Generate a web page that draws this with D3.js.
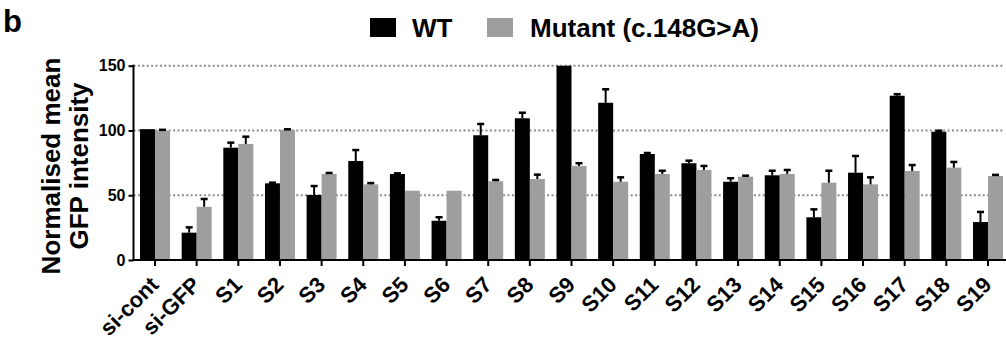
<!DOCTYPE html>
<html>
<head>
<meta charset="utf-8">
<script src="https://cdn.jsdelivr.net/npm/d3@7"></script>
<style>
  body { margin: 0; background: #fff; }
  svg { font-family: "Liberation Sans", Arial, sans-serif; font-weight: bold; }
</style>
</head>
<body>
<script>
// categories and values
const samples = ["si-cont", "si-GFP", "S1", "S2", "S3", "S4", "S5", "S6", "S7", "S8", "S9",
  "S10", "S11", "S12", "S13", "S14", "S15", "S16", "S17", "S18", "S19"];
const wtMean = [101, 21.1, 86.7, 59.2, 50.2, 76.4, 66.4, 30.3, 96.3, 109.4, 150,
  121.4, 81.8, 74.7, 60.4, 65.4, 33, 67.4, 126.8, 99, 29.3];
const wtErr = [0, 4.1, 3.9, 0.5, 6.9, 8.5, 0.5, 2.7, 8.7, 4.3, 0,
  10.4, 0.8, 2, 2.7, 3.5, 6.1, 12.9, 1.2, 0.8, 7.8];
const mutMean = [100, 41.1, 89.6, 100.4, 66.4, 58.4, 53.5, 53.5, 60.8, 62.5, 72.6,
  60.4, 66.4, 69.5, 64.3, 66.4, 59.7, 58.4, 68.7, 71.3, 64.9];
const mutErr = [0.5, 6, 5.6, 0.5, 0.8, 1, 0, 0, 1, 3.4, 2.1,
  3.4, 2.5, 3.1, 0.8, 3.1, 9.2, 5.4, 4.6, 4.4, 0.8];
const yTicks = [0, 50, 100, 150];
const seriesNames = ["WT", "Mutant (c.148G>A)"];
const seriesColors = ["#000000", "#9e9e9e"];

const W = 1006, H = 341;
const svg = d3.select("body").append("svg")
  .attr("width", W)
  .attr("height", H);

// plot area edges
const plotLeft = 133.5, plotBottom = 260, plotTop = 65.7;

const x = d3.scaleBand()
  .domain(samples)
  .range([134.2, 1008.8])
  .paddingInner(0.28)
  .paddingOuter(0.14);

const xSub = d3.scaleBand()
  .domain([0, 1])
  .range([0, x.bandwidth()]);

const y = d3.scaleLinear()
  .domain([0, 150])
  .range([plotBottom, plotTop]);

// dotted gridlines
svg.append("g")
  .selectAll("line")
  .data(yTicks.filter(t => t > 0))
  .join("line")
  .attr("x1", plotLeft)
  .attr("x2", 1003)
  .attr("y1", d => y(d))
  .attr("y2", d => y(d))
  .attr("stroke", "#8a8a8a")
  .attr("stroke-width", 2)
  .attr("stroke-dasharray", "2,2.4");

// bars
const rows = samples.map((s, i) => [
  { s: s, k: 0, v: wtMean[i], e: wtErr[i] },
  { s: s, k: 1, v: mutMean[i], e: mutErr[i] }
]).flat();

svg.append("g")
  .selectAll("rect")
  .data(rows)
  .join("rect")
  .attr("x", d => x(d.s) + xSub(d.k))
  .attr("width", xSub.bandwidth())
  .attr("y", d => y(d.v))
  .attr("height", d => y(0) - y(d.v))
  .attr("fill", d => seriesColors[d.k]);

// error bars, only the upper half
const eb = svg.append("g")
  .selectAll("g")
  .data(rows.filter(d => d.e > 0))
  .join("g")
  .attr("transform", d => "translate(" + (x(d.s) + xSub(d.k) + xSub.bandwidth() / 2) + ",0)");

eb.append("line")
  .attr("y1", d => y(d.v))
  .attr("y2", d => y(d.v + d.e))
  .attr("stroke", "#000")
  .attr("stroke-width", 2);

eb.append("line")
  .attr("x1", -3.5)
  .attr("x2", 3.5)
  .attr("y1", d => y(d.v + d.e))
  .attr("y2", d => y(d.v + d.e))
  .attr("stroke", "#000")
  .attr("stroke-width", 2.5);

// y axis
const yAxis = svg.append("g")
  .attr("transform", "translate(" + plotLeft + ",0)")
  .call(d3.axisLeft(y).tickValues(yTicks).tickSize(5).tickPadding(3));
yAxis.select(".domain").attr("stroke-width", 2).attr("d", "M0," + (plotTop - 1) + "V" + plotBottom);
yAxis.selectAll(".tick line").attr("stroke-width", 2);
yAxis.selectAll("text")
  .attr("font-size", 16)
  .attr("font-weight", "bold")
  .attr("fill", "#000")
  .attr("font-family", "Liberation Sans, Arial, sans-serif");

// x axis
const xAxis = svg.append("g")
  .attr("transform", "translate(0," + plotBottom + ")")
  .call(d3.axisBottom(x).tickSize(6).tickPadding(0));
xAxis.select(".domain").attr("stroke-width", 2).attr("d", "M" + (plotLeft - 1) + ",0H1006");
xAxis.selectAll(".tick line").attr("stroke-width", 2);
xAxis.selectAll("text")
  .attr("font-size", 22)
  .attr("font-weight", "bold")
  .attr("fill", "#000")
  .attr("font-family", "Liberation Sans, Arial, sans-serif")
  .attr("text-anchor", "end")
  .attr("dy", null)
  .attr("y", 0)
  .attr("transform", "translate(5,26) rotate(-45)");

// y axis title
const yt = svg.append("text")
  .attr("transform", "translate(60,166) rotate(-90)")
  .attr("text-anchor", "middle")
  .attr("font-size", 26);
yt.append("tspan").attr("x", 0).attr("y", 0).text("Normalised mean");
yt.append("tspan").attr("x", 0).attr("y", 28).text("GFP intensity");

// panel letter
svg.append("text")
  .attr("x", 3)
  .attr("y", 32)
  .attr("font-size", 31)
  .text("b");

// legend
const legX = [370, 487];
const leg = svg.append("g")
  .selectAll("g")
  .data(seriesNames)
  .join("g")
  .attr("transform", (d, i) => "translate(" + legX[i] + ",18)");
leg.append("rect")
  .attr("width", 26)
  .attr("height", 19)
  .attr("fill", (d, i) => seriesColors[i]);
leg.append("text")
  .attr("x", (d, i) => i === 0 ? 42 : 43)
  .attr("y", 19)
  .attr("font-size", 26)
  .text(d => d);
</script>
</body>
</html>
